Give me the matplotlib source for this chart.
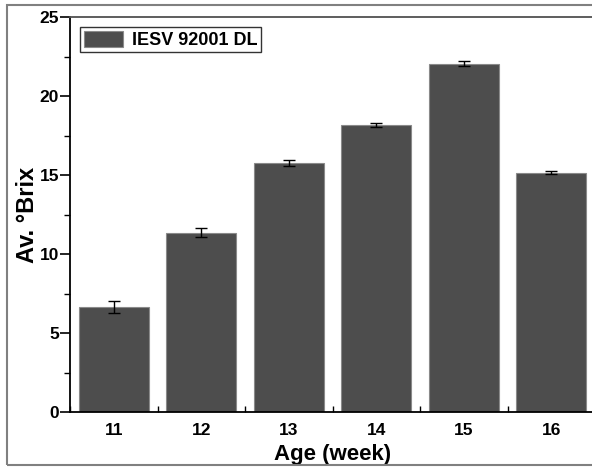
import matplotlib
matplotlib.use("Agg")
import matplotlib.pyplot as plt
from matplotlib.patches import Rectangle
from matplotlib.ticker import MultipleLocator

weeks = [11, 12, 13, 14, 15, 16]
brix = [6.66, 11.35, 15.74, 18.16, 22.05, 15.15]
errors = [0.38, 0.28, 0.2, 0.1, 0.15, 0.1]
series_name = "IESV 92001 DL"

plt.rcParams['font.family'] = ['Liberation Sans', 'DejaVu Sans']
plt.rcParams['font.weight'] = 'bold'

W, H = 592, 468
fig = plt.figure(figsize=(W / 100, H / 100), dpi=100)

# outer frame
fig.patches.append(Rectangle((7 / W, 3 / H), 1.2, (460) / H, transform=fig.transFigure,
                             fill=False, edgecolor='#808080', linewidth=1.5, zorder=0))

x0, x1 = 70, 595
y_top, y_bot = 17, 412
ax = fig.add_axes([x0 / W, 1 - y_bot / H, (x1 - x0) / W, (y_bot - y_top) / H])

ax.bar(weeks, brix, width=0.8, color='#4d4d4d', edgecolor='#8a8a8a', linewidth=0.8,
       yerr=errors, error_kw=dict(ecolor='black', elinewidth=1.0, capsize=4, capthick=1.0),
       label=series_name, zorder=2)

ax.set_xlim(10.5, 16.5)
ax.set_ylim(0, 25)
ax.set_xticks(weeks)
ax.xaxis.set_minor_locator(MultipleLocator(0.5))
ax.yaxis.set_major_locator(MultipleLocator(5))
ax.yaxis.set_minor_locator(MultipleLocator(2.5))

ax.tick_params(axis='x', which='major', direction='in', length=7, width=1.2, labelsize=12.5, pad=8)
ax.tick_params(axis='x', which='minor', direction='in', length=4, width=1.0)
ax.tick_params(axis='y', which='major', direction='out', length=7, width=1.2, labelsize=12.5, pad=1)
ax.tick_params(axis='y', which='minor', direction='out', length=4, width=1.0)
for lbl in ax.get_xticklabels() + ax.get_yticklabels():
    lbl.set_fontweight('bold')

for s in ax.spines.values():
    s.set_linewidth(1.3)
ax.spines['top'].set_color('#505050')

ax.set_xlabel('Age (week)', fontsize=16, fontweight='bold', labelpad=4)
ax.set_ylabel('Av. °Brix', fontsize=17, fontweight='bold', labelpad=0)

leg = ax.legend(loc='upper left', bbox_to_anchor=(0.0, 1.0), fontsize=13, frameon=True,
                fancybox=False, edgecolor='black', handlelength=2.2, handleheight=1.0,
                borderpad=0.2, handletextpad=0.5, borderaxespad=0.55)
leg.get_frame().set_linewidth(1.0)
for t in leg.get_texts():
    t.set_fontweight('bold')

fig.savefig('out.png', dpi=100)
